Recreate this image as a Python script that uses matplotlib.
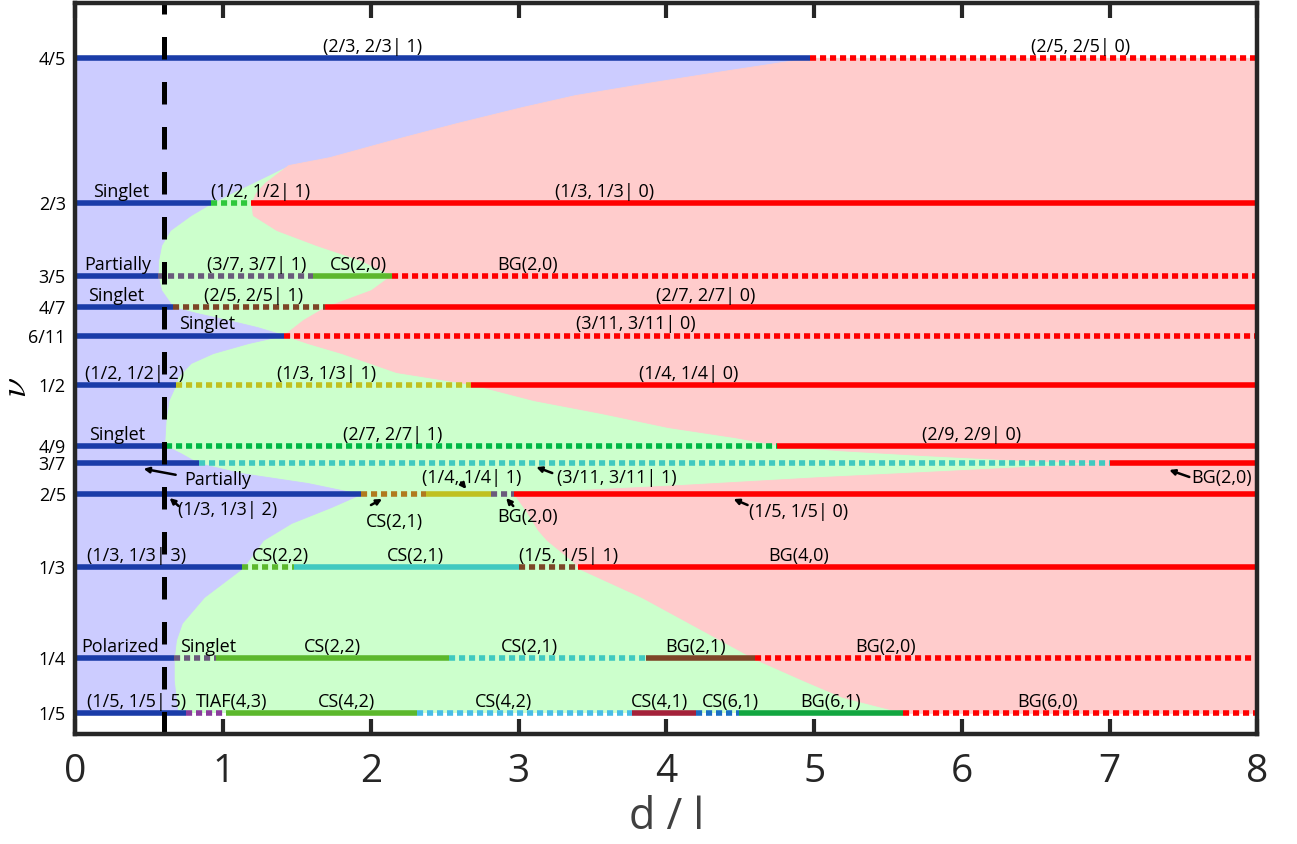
import matplotlib
matplotlib.use("Agg")
import matplotlib.pyplot as plt
import numpy as np

plt.rcParams['font.family'] = ['Open Sans', 'DejaVu Sans']
plt.rcParams['mathtext.fontset'] = 'cm'

# ---------------- data ----------------
nu_levels = [4/5, 2/3, 3/5, 4/7, 6/11, 1/2, 4/9, 3/7, 2/5, 1/3, 1/4, 1/5]
nu_labels = ['4/5', '2/3', '3/5', '4/7', '6/11', '1/2', '4/9', '3/7', '2/5', '1/3', '1/4', '1/5']

# phase boundaries (nu, d/l)
blue_edge = [(0.80, 4.97), (0.7887, 4.42), (0.7777, 3.905), (0.7658, 3.38), (0.7548, 3.02),
             (0.7402, 2.58), (0.7246, 2.14), (0.7090, 1.72), (0.7017, 1.44), (0.6852, 1.19),
             (0.6761, 1.05), (0.6667, 0.915), (0.6559, 0.78), (0.6422, 0.64), (0.6284, 0.58),
             (0.6147, 0.56), (0.6010, 0.556), (0.5872, 0.58), (0.5717, 0.66), (0.5662, 0.82),
             (0.5598, 1.03), (0.5533, 1.23), (0.5460, 1.41), (0.5387, 1.17), (0.5295, 0.93),
             (0.5204, 0.78), (0.5075, 0.69), (0.5011, 0.68), (0.4864, 0.63), (0.4681, 0.61),
             (0.4452, 0.60), (0.4379, 0.71), (0.4288, 0.83), (0.4196, 1.12), (0.4105, 1.57),
             (0.4004, 1.93), (0.3885, 1.73), (0.3739, 1.46), (0.3583, 1.27), (0.3327, 1.13),
             (0.3061, 0.87), (0.2823, 0.72), (0.2667, 0.68), (0.2493, 0.665), (0.2301, 0.665),
             (0.2000, 0.69)]
pink_edge = [(0.80, 4.97), (0.7887, 4.42), (0.7777, 3.905), (0.7658, 3.38), (0.7548, 3.02),
             (0.7402, 2.58), (0.7246, 2.14), (0.7090, 1.72), (0.7017, 1.44), (0.6852, 1.28),
             (0.6761, 1.22), (0.6667, 1.19), (0.6559, 1.20), (0.6422, 1.36), (0.6284, 1.63),
             (0.6147, 1.93), (0.6010, 2.14), (0.5872, 2.00), (0.5717, 1.69), (0.5598, 1.54),
             (0.5460, 1.41), (0.5387, 1.57), (0.5295, 1.80), (0.5121, 2.17), (0.5011, 2.68),
             (0.4864, 3.10), (0.4745, 3.56), (0.4617, 4.01), (0.4525, 4.46), (0.4452, 4.76),
             (0.4407, 5.15), (0.4361, 5.73), (0.4315, 6.41), (0.4288, 7.01), (0.4251, 6.41),
             (0.4205, 5.73), (0.4160, 5.05), (0.4087, 4.10), (0.4041, 3.42), (0.4004, 2.97),
             (0.3830, 3.06), (0.3675, 3.13), (0.3583, 3.19), (0.3372, 3.38), (0.3327, 3.40),
             (0.3061, 3.83), (0.2759, 4.24), (0.2493, 4.60), (0.2301, 4.92), (0.2145, 5.19),
             (0.2000, 5.61)]

# phase segments on each filling: break points (d/l) and phase keys
breaks_4_5 = [0, 4.97, 8];                         phases_4_5 = ['blue', 'red:']
breaks_2_3 = [0, 0.915, 1.19, 8];                  phases_2_3 = ['blue', 'green:', 'red']
breaks_3_5 = [0, 0.556, 1.61, 2.14, 8];            phases_3_5 = ['blue', 'gray:', 'lime', 'red:']
breaks_4_7 = [0, 0.66, 1.69, 8];                   phases_4_7 = ['blue', 'brown:', 'red']
breaks_6_11 = [0, 1.41, 8];                        phases_6_11 = ['blue', 'red:']
breaks_1_2 = [0, 0.678, 2.68, 8];                  phases_1_2 = ['blue', 'olive:', 'red']
breaks_4_9 = [0, 0.61, 4.75, 8];                   phases_4_9 = ['blue', 'emerald:', 'red']
breaks_3_7 = [0, 0.834, 7.0, 8];                   phases_3_7 = ['blue', 'teal:', 'red']
breaks_2_5 = [0, 1.93, 2.37, 2.81, 2.97, 8];       phases_2_5 = ['blue', 'ochre:', 'olive', 'gray:', 'red']
breaks_1_3 = [0, 1.13, 1.48, 3.0, 3.40, 8];        phases_1_3 = ['blue', 'lime:', 'teal', 'brown:', 'red']
breaks_1_4 = [0, 0.67, 0.95, 2.53, 3.86, 4.60, 8]; phases_1_4 = ['blue', 'gray:', 'lime', 'teal:', 'brown', 'red:']
breaks_1_5 = [0, 0.75, 1.02, 2.31, 3.77, 4.20, 4.49, 5.60, 8]
phases_1_5 = ['blue', 'purple:', 'lime', 'sky:', 'crimson', 'azure:', 'jade', 'red:']

all_breaks = [breaks_4_5, breaks_2_3, breaks_3_5, breaks_4_7, breaks_6_11, breaks_1_2,
              breaks_4_9, breaks_3_7, breaks_2_5, breaks_1_3, breaks_1_4, breaks_1_5]
all_phases = [phases_4_5, phases_2_3, phases_3_5, phases_4_7, phases_6_11, phases_1_2,
              phases_4_9, phases_3_7, phases_2_5, phases_1_3, phases_1_4, phases_1_5]

# labels above the lines: (text, d/l centre, nu)
top_labels = [
    ('(2/3, 2/3| 1)', 2.01, 4/5), ('(2/5, 2/5| 0)', 6.80, 4/5),
    ('Singlet', 0.308, 2/3), ('(1/2, 1/2| 1)', 1.254, 2/3), ('(1/3, 1/3| 0)', 3.58, 2/3),
    ('Partially', 0.285, 3/5), ('(3/7, 3/7| 1)', 1.224, 3/5), ('CS(2,0)', 1.915, 3/5), ('BG(2,0)', 3.062, 3/5),
    ('Singlet', 0.275, 4/7), ('(2/5, 2/5| 1)', 1.207, 4/7), ('(2/7, 2/7| 0)', 4.264, 4/7),
    ('Singlet', 0.89, 6/11), ('(3/11, 3/11| 0)', 3.79, 6/11),
    ('(1/2, 1/2| 2)', 0.40, 1/2), ('(1/3, 1/3| 1)', 1.697, 1/2), ('(1/4, 1/4| 0)', 4.153, 1/2),
    ('Singlet', 0.285, 4/9), ('(2/7, 2/7| 1)', 2.149, 4/9), ('(2/9, 2/9| 0)', 6.068, 4/9),
    ('(1/3, 1/3| 3)', 0.414, 1/3), ('CS(2,2)', 1.39, 1/3), ('CS(2,1)', 2.30, 1/3),
    ('(1/5, 1/5| 1)', 3.34, 1/3), ('BG(4,0)', 4.895, 1/3),
    ('Polarized', 0.303, 1/4), ('Singlet', 0.898, 1/4), ('CS(2,2)', 1.742, 1/4),
    ('CS(2,1)', 3.07, 1/4), ('BG(2,1)', 4.20, 1/4), ('BG(2,0)', 5.483, 1/4),
    ('(1/5, 1/5| 5)', 0.414, 1/5), ('TIAF(4,3)', 1.057, 1/5), ('CS(4,2)', 1.834, 1/5),
    ('CS(4,2)', 2.895, 1/5), ('CS(4,1)', 3.953, 1/5), ('CS(6,1)', 4.434, 1/5),
    ('BG(6,1)', 5.112, 1/5), ('BG(6,0)', 6.58, 1/5),
]

# arrow-annotated labels: (text, text centre (d, nu), arrow tail (d, nu), arrow head (d, nu))
arrow_labels = [
    ('Partially', (0.963, 0.4131), (0.678, 0.4180), (0.461, 0.4235)),
    ('(1/3, 1/3| 2)', (1.03, 0.3858), (0.698, 0.3894), (0.637, 0.3967)),
    ('CS(2,1)', (2.156, 0.3748), (2.00, 0.3903), (2.075, 0.3958)),
    ('(1/4, 1/4| 1)', (2.685, 0.4149), (2.61, 0.4110), (2.645, 0.4050)),
    ('BG(2,0)', (3.058, 0.3794), (2.963, 0.3894), (2.915, 0.3967)),
    ('(3/11, 3/11| 1)', (3.661, 0.4152), (3.227, 0.4196), (3.119, 0.4251)),
    ('(1/5, 1/5| 0)', (4.895, 0.3840), (4.549, 0.3903), (4.454, 0.3958)),
    ('BG(2,0)', (7.756, 0.4149), (7.539, 0.4160), (7.403, 0.4224)),
]

critical_d = 0.6
x_ticks = [0, 1, 2, 3, 4, 5, 6, 7, 8]

# ---------------- styles ----------------
phase_style = {
    'blue': ('#1a3ca8', '-'), 'red': ('#ff0000', '-'), 'red:': ('#ff0000', ':'),
    'green:': ('#2ec83c', ':'), 'gray:': ('#6a5a7c', ':'), 'lime': ('#5cb82c', '-'),
    'lime:': ('#5cb82c', ':'), 'brown:': ('#7d4527', ':'), 'brown': ('#7d4527', '-'),
    'olive:': ('#c0c020', ':'), 'olive': ('#c0c020', '-'), 'emerald:': ('#00b845', ':'),
    'teal:': ('#40c9c0', ':'), 'teal': ('#40c9c0', '-'), 'ochre:': ('#b07a1e', ':'),
    'purple:': ('#8a3c9c', ':'), 'sky:': ('#48bce6', ':'), 'crimson': ('#a4213a', '-'),
    'azure:': ('#1a6ec4', ':'), 'jade': ('#12a640', '-'),
}
LW = 4.0
DOT = (1.1, 0.7)
spine_c = '#262626'
FS = 13

fig = plt.figure(figsize=(12.97, 8.44), dpi=100)
ax = fig.add_axes([0.0582, 0.1309, 0.9113, 0.8661])
ax.set_xlim(0, 8)
ax.set_ylim(0.181, 0.8506)

# regions
nu_lo, nu_hi = min(nu_levels), max(nu_levels)
ax.fill_between([0, 8], [nu_lo, nu_lo], [nu_hi, nu_hi], color='#ccffcc', lw=0, zorder=0)
bn = np.array(blue_edge)
pn = np.array(pink_edge)
ax.fill_betweenx(bn[:, 0], 0, bn[:, 1], color='#ccccff', lw=0.6, edgecolor='#ccccff', zorder=1)
ax.fill_betweenx(pn[:, 0], pn[:, 1], 8, color='#ffcccc', lw=0.6, edgecolor='#ffcccc', zorder=1)

# phase lines
for nu, brk, ph in zip(nu_levels, all_breaks, all_phases):
    for a, b, key in zip(brk[:-1], brk[1:], ph):
        col, ls = phase_style[key]
        if ls == ':':
            ax.plot([a, b], [nu, nu], color=col, lw=LW, linestyle=(0, DOT),
                    dash_capstyle='butt', zorder=3)
        else:
            ax.plot([a, b], [nu, nu], color=col, lw=LW, solid_capstyle='butt', zorder=3)

# critical d line
ax.plot([critical_d, critical_d], [0.181, 0.8506], color='black', lw=3.6,
        linestyle=(0, (4.5, 4.5)), dash_capstyle='butt', zorder=5)

# labels
for txt, d, nu in top_labels:
    ax.annotate(txt, (d, nu), xytext=(0, 4.5), textcoords='offset points',
                ha='center', va='baseline', fontsize=FS, color='black', zorder=6)
for txt, (tx, ty), tail, head in arrow_labels:
    ax.text(tx, ty, txt, ha='center', va='center', fontsize=FS, color='black', zorder=6)
    ax.annotate('', xy=head, xytext=tail,
                arrowprops=dict(arrowstyle='-|>', color='black', lw=1.8,
                                mutation_scale=8, shrinkA=0, shrinkB=0), zorder=6)

# axes styling
for s in ax.spines.values():
    s.set_linewidth(3.2)
    s.set_color(spine_c)
    s.set_zorder(7)
ax.set_xticks(x_ticks)
ax.tick_params(axis='x', direction='in', length=10.5, width=3, top=True, bottom=True,
               labelsize=28, labelcolor='#262626', color=spine_c, pad=14)
ax.set_yticks(nu_levels, nu_labels)
ax.tick_params(axis='y', length=0, pad=7, labelsize=13, labelcolor='black')
ax.set_xlabel('d / l', fontsize=31, color='#404040', labelpad=3)
ax.set_ylabel(r'$\nu$', fontsize=26, rotation=90)
ax.yaxis.set_label_coords(-0.034, 0.473)

fig.savefig('out.png', dpi=100)
